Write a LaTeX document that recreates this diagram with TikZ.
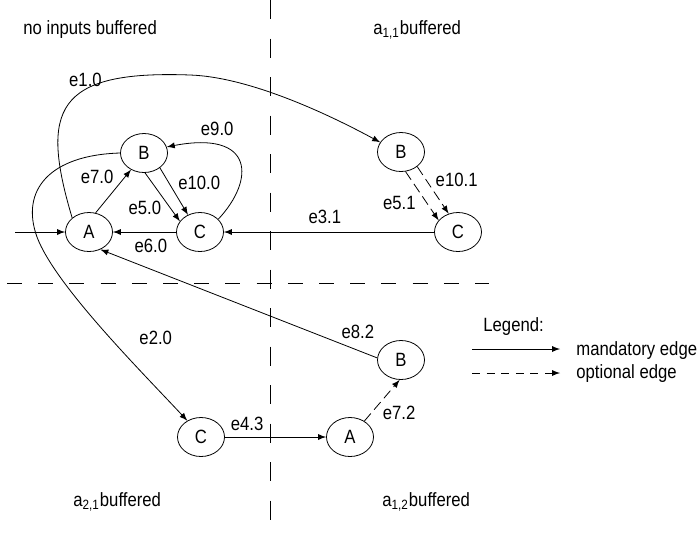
\documentclass[tikz,border=0pt]{standalone}
\usepackage{fontspec}
\setmainfont[FakeStretch=0.87]{Liberation Sans}
\usetikzlibrary{shapes.geometric}
\usetikzlibrary{calc}

\tikzset{
	st/.style = {draw, ellipse, minimum width = 23.5pt, minimum height = 19.5pt, inner sep = 0pt},
	lbl/.style = {inner sep = 1.5pt},
	ttl/.style = {anchor = base west, inner sep = 0pt},
	opt/.style = {dash pattern = on 5pt off 2.5pt},
	lgdash/.style = {dash pattern = on 4pt off 3.3pt},
	vdiv/.style = {dash pattern = on 9.5pt off 9.75pt},
	hdiv/.style = {dash pattern = on 7.5pt off 8.1pt}
}

\begin{document}
\begin{tikzpicture}[x = 0.5pt, y = -0.5pt, font = \fontsize{9.6}{11.5}\selectfont]
		\useasboundingbox (0, 0) rectangle (697, 537);
		% dividers
		\coordinate (vtop)at(270, 0);
		\coordinate (vbot)at(270, 524);
		\coordinate (hl)at(7, 283);
		\coordinate (hr)at(489, 283);
		\draw [vdiv](vtop)--(vbot);
		\draw [hdiv](hl)--(hr);
		% titles
		\node (t00)at(23, 34)[ttl]{no inputs buffered};
		\node (t11)at(373, 34)[ttl]{a\textsubscript{1,1}buffered};
		\node (t21)at(73, 506)[ttl]{a\textsubscript{2,1}buffered};
		\node (t12)at(382, 506)[ttl]{a\textsubscript{1,2}buffered};
		% states
		\node (a0)at(89, 232)[st]{A};
		\node (b0)at(144, 153)[st]{B};
		\node (c0)at(200, 232)[st]{C};
		\node (b1)at(401, 152)[st]{B};
		\node (c1)at(458, 232)[st]{C};
		\node (c2)at(201, 437)[st]{C};
		\node (a2)at(350, 437)[st]{A};
		\node (b2)at(401, 360)[st]{B};
		% edges
		\coordinate (in)at(15, 232);
		\draw [-latex](in)--(a0);
		\draw [-latex](a0.71)to node [pos = .6, anchor = south east, lbl]{e7.0}(b0.232);
		\draw [-latex](b0.273)to node [pos = .73, left = 3pt, lbl]{e5.0}(c0.152);
		\draw [-latex](b0.317)to node [pos = .32, right = 3pt, lbl]{e10.0}(c0.125);
		\draw [-latex](c0)to node [pos = .4, below = 2pt, lbl]{e6.0}(a0);
		\draw [-latex](c0.35) .. controls (255, 180) and (255, 130) .. (b0.15) node [pos = .75, above = 3pt, lbl]{e9.0};
		\draw [-latex](a0.140) .. controls (40, 110) and (55, 70) .. (190, 75) node [pos = .75, left = 2.5pt, lbl]{e1.0} .. controls (250, 77) and (330, 115) .. (b1.155);
		\draw [-latex](b0.180) .. controls (50, 155) and (20, 190) .. (37, 237) .. controls (55, 285) and (140, 370) .. (c2.130) node [pos = .55, anchor = west, xshift = 13pt, lbl]{e2.0};
		\draw [-latex](c1)to node [pos = .52, above = 2.5pt, lbl]{e3.1}(c0);
		\draw [-latex, opt](b1.283)to node [pos = .65, left = 4pt, lbl]{e5.1}(c1.149);
		\draw [-latex, opt](b1.318)to node [pos = .29, right = 3pt, lbl]{e10.1}(c1.117);
		\draw [-latex](b2.175)to node [pos = .07, above = 4pt, lbl]{e8.2}(a0.303);
		\draw [-latex](c2)to node [pos = .22, above = 1.5pt, lbl]{e4.3}(a2);
		\draw [-latex, opt](a2.48)to node [pos = .2, right = 4pt, lbl]{e7.2}(b2.266);
		% legend
		\node (lg)at(483, 331)[ttl]{Legend:};
		\coordinate (m1)at(472, 349);
		\coordinate (m2)at(560, 349);
		\draw [-latex](m1)--(m2);
		\node (mt)at(576, 355)[ttl]{mandatory edge};
		\coordinate (o1)at(472, 373);
		\coordinate (o2)at(560, 373);
		\draw [-latex, lgdash](o1)--(o2);
		\node (ot)at(576, 378)[ttl]{optional edge};
	\end{tikzpicture}
\end{document}
